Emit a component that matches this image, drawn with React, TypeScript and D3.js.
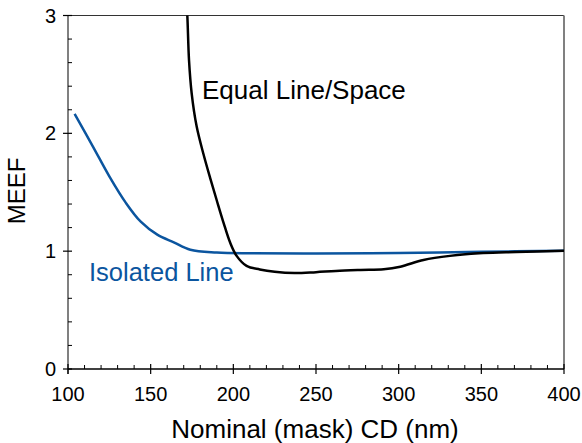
import React from "react";
import * as d3 from "d3";

// Isolated line (blue)
const isoCD = [104, 115, 125, 135, 144, 154, 164, 174, 190, 210, 250, 300, 350, 400];
const isoMEEF = [2.165, 1.89, 1.635, 1.41, 1.25, 1.14, 1.075, 1.012, 0.989, 0.982, 0.98, 0.985, 0.995, 1.003];

// Equal line/space (black)
const lsCD = [171.7, 172.2, 173.2, 174.8, 177.8, 182, 186, 190, 194, 198, 202, 208, 216, 225, 237, 250, 262, 277, 291, 301, 315, 331, 351, 371, 400];
const lsMEEF = [3.1, 2.99, 2.62, 2.34, 2.06, 1.82, 1.62, 1.43, 1.245, 1.075, 0.96, 0.875, 0.845, 0.825, 0.814, 0.822, 0.832, 0.84, 0.846, 0.868, 0.925, 0.96, 0.984, 0.993, 1.003];

const xTicks = [100, 150, 200, 250, 300, 350, 400];
const yTicks = [0, 1, 2, 3];

const W = 582, H = 443;
const left = 68, right = 564, top = 15.5, bottom = 369;
const font = "'Liberation Sans', Arial, sans-serif";

export default function App() {
  const x = d3.scaleLinear().domain([100, 400]).range([left, right]);
  const y = d3.scaleLinear().domain([0, 3]).range([bottom, top]);

  const mk = (xs: number[], ys: number[]) =>
    d3.line<[number, number]>()
      .x(d => x(d[0]))
      .y(d => y(d[1]))
      .curve(d3.curveCatmullRom.alpha(0.5))(xs.map((v, i) => [v, ys[i]] as [number, number]));

  const xMinor = d3.range(100, 401, 10).filter(v => v % 50 !== 0);
  const yMinor = d3.range(0, 3.01, 0.2).filter(v => Math.abs(v - Math.round(v)) > 0.01);

  return (
    <svg width={W} height={H} style={{ position: "absolute", left: 0, top: 0, background: "#fff" }}>
      <defs>
        <clipPath id="plot">
          <rect x={left} y={top} width={right - left} height={bottom - top} />
        </clipPath>
      </defs>

      {/* frame */}
      <line x1={left} x2={right} y1={top} y2={top} stroke="#333" strokeWidth={1} />
      <line x1={right} x2={right} y1={top} y2={bottom} stroke="#808080" strokeWidth={2} />
      <line x1={left} x2={left} y1={top} y2={bottom + 5} stroke="#808080" strokeWidth={2} />
      <line x1={left} x2={right} y1={bottom} y2={bottom} stroke="#000" strokeWidth={1.5} />

      {/* y ticks */}
      {yMinor.map(v => (
        <line key={"ym" + v} x1={left} x2={left + 4} y1={y(v)} y2={y(v)} stroke="#000" strokeWidth={1} />
      ))}
      {yTicks.map(v => (
        <g key={"y" + v}>
          <line x1={left - 5} x2={left + 4} y1={y(v)} y2={y(v)} stroke="#000" strokeWidth={1.2} />
          <text x={56} y={y(v) + 7} textAnchor="end" fontFamily={font} fontSize={20} fill="#000">{v}</text>
        </g>
      ))}

      {/* x ticks */}
      {xMinor.map(v => (
        <line key={"xm" + v} x1={x(v)} x2={x(v)} y1={bottom} y2={bottom - 4} stroke="#000" strokeWidth={1} />
      ))}
      {xTicks.map(v => (
        <g key={"x" + v}>
          <line x1={x(v)} x2={x(v)} y1={bottom - 5} y2={bottom + 5} stroke="#000" strokeWidth={1.2} />
          <text x={x(v)} y={401} textAnchor="middle" fontFamily={font} fontSize={20} fill="#000">{v}</text>
        </g>
      ))}

      {/* curves */}
      <g clipPath="url(#plot)">
        <path d={mk(isoCD, isoMEEF) || ""} fill="none" stroke="#0b559f" strokeWidth={2.5} />
        <path d={mk(lsCD, lsMEEF) || ""} fill="none" stroke="#000" strokeWidth={2.5} />
      </g>

      {/* labels */}
      <text x={202} y={99} fontFamily={font} fontSize={26} fill="#000">Equal Line/Space</text>
      <text x={89} y={281} fontFamily={font} fontSize={25.5} fill="#0b559f">Isolated Line</text>

      <text x={315} y={438} textAnchor="middle" fontFamily={font} fontSize={26} fill="#000">
        Nominal (mask) CD (nm)
      </text>
      <text transform={`translate(25,191) rotate(-90)`} textAnchor="middle" fontFamily={font} fontSize={24} fill="#000">
        MEEF
      </text>
    </svg>
  );
}
